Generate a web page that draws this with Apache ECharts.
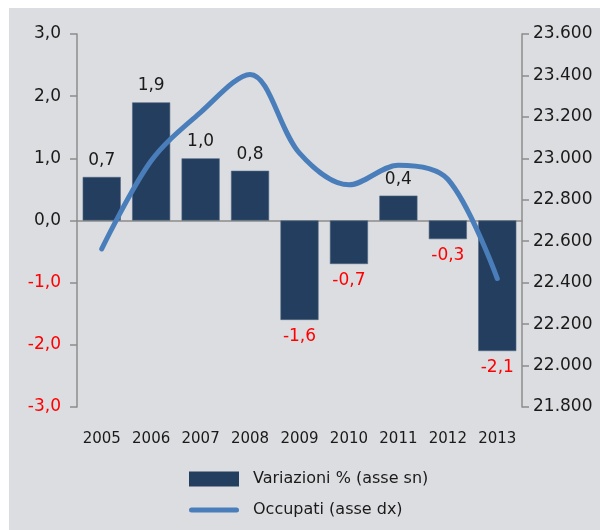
<!DOCTYPE html>
<html>
<head>
<meta charset="utf-8">
<script src="https://cdn.jsdelivr.net/npm/echarts@6/dist/echarts.min.js"></script>
<style>
    html, body { margin: 0; padding: 0; background: #ffffff; }
    #main { position: absolute; left: 9px; top: 8px; width: 591px; height: 522px; }
</style>
</head>
<body>
<div id="main"></div>
<script>
var years = ['2005', '2006', '2007', '2008', '2009', '2010', '2011', '2012', '2013'];
var variazioni = [0.7, 1.9, 1.0, 0.8, -1.6, -0.7, 0.4, -0.3, -2.1];
var occupati = [22563, 22988, 23222, 23405, 23025, 22872, 22967, 22899, 22420];
var leftTicks = { min: -3, max: 3, interval: 1 };
var rightTicks = { min: 21800, max: 23600, interval: 200 };

var FONT = 'DejaVu Sans';
var AXIS_GRAY = '#8c8c8c';
var LINE_BLUE = '#4a7ebb';
var BAR_NAVY = '#243e5f';

function itNum(v) {
    return v.toFixed(1).replace('.', ',');
}

function thousands(v) {
    return (v / 1000).toFixed(3);
}

var barData = variazioni.map(function (v) {
    return {
        value: v,
        label: {
            position: v < 0 ? 'bottom' : 'top',
            color: v < 0 ? '#ff0000' : '#1a1a1a'
        }
    };
});

var chart = echarts.init(document.getElementById('main'));
chart.setOption({
    backgroundColor: '#dcdde0',
    animation: false,
    textStyle: { fontFamily: FONT },
    grid: { left: 68, right: 78, top: 26, bottom: 123 },
    legend: {
        orient: 'vertical',
        left: 180,
        top: 463,
        height: 80,
        padding: 0,
        itemWidth: 50,
        itemHeight: 15,
        itemGap: 15,
        symbolKeepAspect: true,
        textStyle: { fontFamily: FONT, fontSize: 16, color: '#1a1a1a', padding: [0, 0, 0, 9] },
        data: [
            {
                name: 'Variazioni % (asse sn)',
                icon: 'rect',
                itemStyle: { color: BAR_NAVY, borderWidth: 0 }
            },
            {
                name: 'Occupati (asse dx)',
                icon: 'path://M2.5,0 L47.5,0 A2.5,2.5 0 0 1 47.5,5 L2.5,5 A2.5,2.5 0 0 1 2.5,0 Z',
                itemStyle: { color: LINE_BLUE, borderWidth: 0 }
            }
        ]
    },
    xAxis: [
        {
            type: 'category',
            data: years,
            axisLine: { show: false, onZero: false },
            axisTick: { show: false },
            axisLabel: { interval: 0, margin: 25, fontSize: 15, color: '#1a1a1a', fontFamily: FONT }
        },
        {
            type: 'category',
            data: years,
            position: 'bottom',
            axisLine: { show: true, onZero: true, lineStyle: { color: AXIS_GRAY, width: 1.5 } },
            axisTick: { show: false },
            axisLabel: { show: false }
        }
    ],
    yAxis: [
        {
            type: 'value',
            min: leftTicks.min,
            max: leftTicks.max,
            interval: leftTicks.interval,
            splitLine: { show: false },
            axisLine: { show: true, lineStyle: { color: AXIS_GRAY, width: 1.5 } },
            axisTick: { show: true, length: 7, lineStyle: { color: AXIS_GRAY, width: 1.5 } },
            axisLabel: {
                margin: 16,
                fontSize: 17,
                fontFamily: FONT,
                formatter: function (v) { return itNum(v); },
                color: function (v) { return Number(v) < 0 ? '#ff0000' : '#1a1a1a'; }
            }
        },
        {
            type: 'value',
            position: 'right',
            min: rightTicks.min,
            max: rightTicks.max,
            interval: rightTicks.interval,
            splitLine: { show: false },
            axisLine: { show: true, lineStyle: { color: AXIS_GRAY, width: 1.5 } },
            axisTick: { show: true, length: 7, lineStyle: { color: AXIS_GRAY, width: 1.5 } },
            axisLabel: {
                margin: 11,
                fontSize: 17,
                fontFamily: FONT,
                color: '#1a1a1a',
                formatter: function (v) { return thousands(v); }
            }
        }
    ],
    series: [
        {
            name: 'Variazioni % (asse sn)',
            type: 'bar',
            xAxisIndex: 0,
            yAxisIndex: 0,
            barCategoryGap: '23%',
            itemStyle: { color: BAR_NAVY, borderColor: '#4f6682', borderWidth: 0.6 },
            label: {
                show: true,
                distance: 8,
                fontSize: 17,
                fontFamily: FONT,
                formatter: function (p) { return itNum(p.value); }
            },
            data: barData
        },
        {
            name: 'Occupati (asse dx)',
            type: 'line',
            xAxisIndex: 0,
            yAxisIndex: 1,
            smooth: 0.33,
            symbol: 'none',
            lineStyle: { color: LINE_BLUE, width: 5, cap: 'round' },
            itemStyle: { color: LINE_BLUE },
            data: occupati
        }
    ]
});
</script>
</body>
</html>
